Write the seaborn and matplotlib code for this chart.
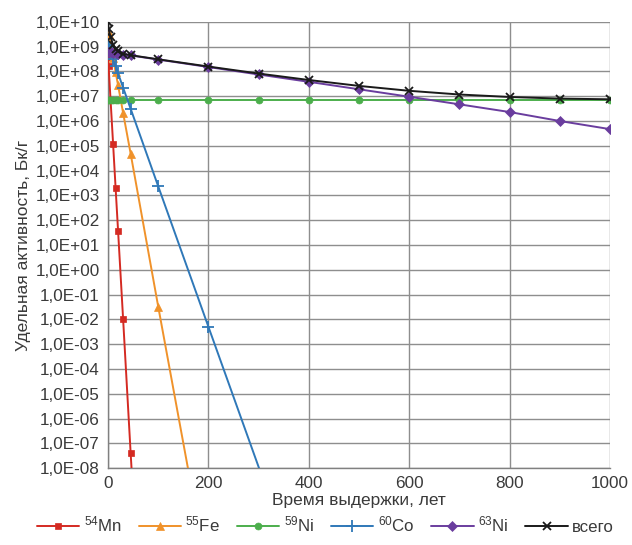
import numpy as np
import pandas as pd
import matplotlib
matplotlib.use("Agg")
import matplotlib.pyplot as plt
import seaborn as sns
from matplotlib.ticker import FuncFormatter, FixedLocator

# ---------------- data ----------------
times = [0, 1, 5, 10, 15, 20, 30, 45, 100, 200, 300, 400, 500, 600, 700, 800, 900, 1000]

mn54 = [3.9e8, 1.7e8, 6.8e6, 1.2e5, 2.0e3, 3.5e1, 1.0e-2, 4.0e-8, 2.5e-27]
fe55 = [4.3e9, 3.3e9, 1.2e9, 3.4e8, 9.5e7, 2.7e7, 2.1e6, 4.8e4, 3.2e-2, 3.2e-13]
ni59 = [7.0e6] * 18
co60 = [1.15e9, 1.0e9, 5.9e8, 3.1e8, 1.6e8, 8.3e7, 2.2e7, 3.1e6, 2.3e3, 5.0e-3, np.nan, 2.5e-14]
ni63 = [6.0e8, 6.0e8, 5.9e8, 5.6e8, 5.4e8, 5.2e8, 4.8e8, 4.4e8, 3.0e8, 1.5e8,
        7.5e7, 3.8e7, 1.9e7, 9.5e6, 4.7e6, 2.3e6, 1.0e6, 4.7e5]
total = [9.5e9, 5.1e9, 2.4e9, 1.2e9, 8.0e8, 6.4e8, 5.1e8, 4.5e8, 3.07e8, 1.57e8,
         8.2e7, 4.5e7, 2.6e7, 1.65e7, 1.17e7, 9.3e6, 8.0e6, 7.5e6]

series_labels = [r"$^{54}$Mn", r"$^{55}$Fe", r"$^{59}$Ni", r"$^{60}$Co", r"$^{63}$Ni", "всего"]
series_values = [mn54, fe55, ni59, co60, ni63, total]

x_ticks = [0, 200, 400, 600, 800, 1000]
y_exponents = list(range(-8, 11))

xlabel = "Время выдержки, лет"
ylabel = "Удельная активность, Бк/г"

# ---------------- style ----------------
colors = ["#d42a22", "#f0922a", "#4cae4c", "#2f78b8", "#6a3d9e", "#1a1a1a"]
markers = ["s", "^", "o", "+", "D", "x"]
msizes = [5, 6, 5, 8, 5, 6]

sns.set_theme(style="white")
plt.rcParams["font.family"] = ["Liberation Sans", "DejaVu Sans"]
plt.rcParams["mathtext.fontset"] = "custom"
plt.rcParams["mathtext.rm"] = "Liberation Sans"
plt.rcParams["mathtext.it"] = "Liberation Sans:italic"

fig = plt.figure(figsize=(6.32, 5.45), dpi=100)
ax = fig.add_axes([0.171, 0.141, 0.794, 0.819])

frames = []
for lab, vals in zip(series_labels, series_values):
    frames.append(pd.DataFrame({"t": times[:len(vals)], "v": vals, "s": lab}))
df = pd.concat(frames, ignore_index=True).dropna()

for lab, c, m, ms in zip(series_labels, colors, markers, msizes):
    sub = df[df["s"] == lab]
    sns.lineplot(data=sub, x="t", y="v", color=c, marker=m, markersize=ms,
                 markeredgecolor=c, markeredgewidth=1.3 if m in "+x" else 0.5,
                 linewidth=1.4, ax=ax, label=lab, legend=False, zorder=3)

ax.set_yscale("log")
ax.set_xlim(0, 1000)
ax.set_ylim(1e-8, 1e10)
ax.xaxis.set_major_locator(FixedLocator(x_ticks))
ax.yaxis.set_major_locator(FixedLocator([10.0 ** e for e in y_exponents]))
ax.yaxis.set_minor_locator(FixedLocator([]))
ax.yaxis.set_major_formatter(FuncFormatter(
    lambda v, p: "1,0E{:+03d}".format(int(round(np.log10(v))))))

ax.grid(True, which="major", color="#8e8e8e", linewidth=1.0)
for sp in ["top", "right"]:
    ax.spines[sp].set_visible(False)
for sp in ["left", "bottom"]:
    ax.spines[sp].set_color("#808080")
    ax.spines[sp].set_linewidth(1.0)

ax.tick_params(axis="both", which="major", labelsize=12.3,
               length=4, width=1.0, direction="out", pad=2,
               colors="#808080", labelcolor="#3a3a3a")

ax.set_xlabel(xlabel, fontsize=12.5, color="#3a3a3a", labelpad=1)
ax.set_ylabel(ylabel, fontsize=12.5, color="#3a3a3a", labelpad=3)

handles, labels = ax.get_legend_handles_labels()
fig.legend(handles, labels, loc="center", bbox_to_anchor=(0.515, 0.037), ncol=6,
           frameon=False, fontsize=12.2, handlelength=2.5, handletextpad=0.25,
           columnspacing=1.0, labelcolor="#3a3a3a")

fig.savefig("out.png", dpi=100)
